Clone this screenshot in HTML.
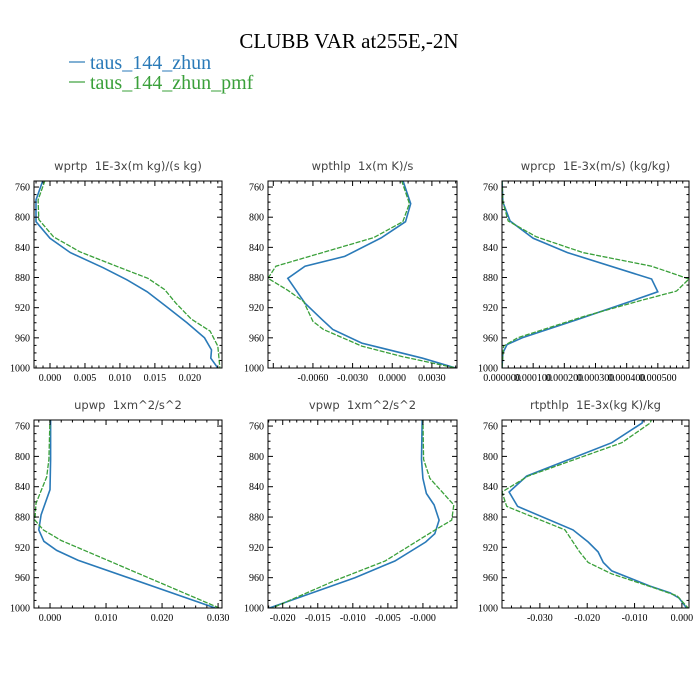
<!DOCTYPE html>
<html><head><meta charset="utf-8"><style>
body{margin:0;background:#fff;}
svg{display:block;}
.tk{font-family:"Liberation Serif",serif;font-size:10px;fill:#000;}
.pt{font-family:"DejaVu Sans","Liberation Sans",sans-serif;font-size:11.5px;fill:#444;}
</style></head><body>
<svg id="chart" width="700" height="700" viewBox="0 0 700 700" xmlns="http://www.w3.org/2000/svg">
<text x="349" y="48" text-anchor="middle" font-family="Liberation Serif,serif" font-size="21">CLUBB VAR at255E,-2N</text>
<g>
<line x1="69" y1="62" x2="85" y2="62" stroke="#2a7ab8" stroke-width="1.2"/>
<text x="90" y="69" font-family="Liberation Serif,serif" font-size="20" fill="#2a7ab8">taus_144_zhun</text>
<line x1="69" y1="82" x2="85" y2="82" stroke="#3aa03a" stroke-width="1.2"/>
<text x="90" y="89" font-family="Liberation Serif,serif" font-size="20" fill="#3aa03a">taus_144_zhun_pmf</text>
</g>
</svg>
<script>
// Panel titles
const titles = ["wprtp  1E-3x(m kg)/(s kg)","wpthlp  1x(m K)/s","wprcp  1E-3x(m/s) (kg/kg)","upwp  1xm^2/s^2","vpwp  1xm^2/s^2","rtpthlp  1E-3x(kg K)/kg"];
// x-axis ranges
const xMins = [-0.00229,-0.0094,0,-0.00286,-0.0221,-0.038];
const xMaxs = [0.0246,0.0049,0.0006,0.0307,0.00486,0.0015];
// tick values & labels
const xTicks = [[0,0.005,0.01,0.015,0.02],[-0.006,-0.003,0,0.003],[0,0.0001,0.0002,0.0003,0.0004,0.0005],[0,0.01,0.02,0.03],[-0.02,-0.015,-0.01,-0.005,0],[-0.03,-0.02,-0.01,0]];
const xTickLabels = [["0.000","0.005","0.010","0.015","0.020"],["-0.0060","-0.0030","0.0000","0.0030"],["0.000000","0.000100","0.000200","0.000300","0.000400","0.000500"],["0.000","0.010","0.020","0.030"],["-0.020","-0.015","-0.010","-0.005","-0.000"],["-0.030","-0.020","-0.010","0.000"]];
const yTicks = [760,800,840,880,920,960,1000];
// series: pressure levels and values
const bluePres = [
 [751,777,806,828,847,867,883,899,919,940,960,976,987,1000],
 [751,782,806,827,852,865,881,899,914,936,949,967,987,1000],
 [751,780,805,828,847,882,899,912,936,960,969,980,1000],
 [749,804,844,877,897,912,924,937,1000],
 [749,804,829,849,864,884,902,913,938,960,1000],
 [749,756,782,826,847,866,897,913,926,940,951,971,980,987,1000]];
const blueVals = [
 [-0.001,-0.002,-0.002,0,0.0029,0.0076,0.011,0.0139,0.0167,0.0196,0.0221,0.0231,0.023,0.024],
 [0.0008,0.0014,0.001,-0.0008,-0.0036,-0.0066,-0.0079,-0.0072,-0.0066,-0.0053,-0.0045,-0.0023,0.0023,0.0048],
 [0,0.000003,0.000026,0.0001,0.00021,0.00048,0.0005,0.00041,0.00024,0.000065,0.000016,0.000003,0],
 [0.0001,0.0001,0,-0.0016,-0.002,-0.0011,0.0012,0.005,0.0295],
 [-0.0001,-0.0002,0,0.0005,0.0016,0.0023,0.0017,0.0004,-0.004,-0.0097,-0.0219],
 [-0.0082,-0.0084,-0.0148,-0.0328,-0.0365,-0.0347,-0.023,-0.0198,-0.0177,-0.0166,-0.0148,-0.0068,-0.0025,-0.0006,0.001]];
const greenPres = [
 [751,777,803,826,846,865,881,896,914,935,951,971,1000],
 [751,782,806,827,865,881,897,912,938,949,971,985,1000],
 [751,780,805,826,847,865,882,898,910,932,960,971,1000],
 [749,804,827,862,884,897,911,933,1000],
 [749,804,829,864,884,899,938,964,1000],
 [749,756,782,826,847,866,897,926,940,955,973,984,1000]];
const greenVals = [
 [-0.0007,-0.0017,-0.0016,0.0005,0.0043,0.0095,0.014,0.0164,0.018,0.0202,0.0229,0.024,0.0243],
 [0.0007,0.0013,0.0008,-0.0014,-0.0088,-0.0094,-0.0079,-0.0067,-0.006,-0.0052,-0.0023,0.0008,0.0048],
 [0,0.000003,0.00002,0.00011,0.00026,0.00048,0.0006,0.00056,0.00045,0.00026,0.00005,0.000005,0],
 [0,-0.0002,-0.0006,-0.0025,-0.0027,-0.0012,0.002,0.009,0.0302],
 [0,0.0001,0.001,0.0044,0.0041,0.0014,-0.0054,-0.0126,-0.0215],
 [-0.0063,-0.0067,-0.0127,-0.0325,-0.038,-0.037,-0.0247,-0.0216,-0.0198,-0.0148,-0.0061,-0.001,0.0013]];

const NS='http://www.w3.org/2000/svg';
const svg=document.getElementById('chart');
const boxL=[34,268,502], boxR=[222,457,689], boxT=[181,420], boxB=[368,608];
const pTop=752, pBot=1000;
function mk(tag,attrs,parent){const e=document.createElementNS(NS,tag);for(const k in attrs)e.setAttribute(k,attrs[k]);(parent||svg).appendChild(e);return e;}
for(let i=0;i<6;i++){
  const col=i%3,row=Math.floor(i/3);
  const L=boxL[col],R=boxR[col],T=boxT[row],B=boxB[row];
  const xs=v=>L+(v-xMins[i])/(xMaxs[i]-xMins[i])*(R-L);
  const ys=p=>T+(p-pTop)/(pBot-pTop)*(B-T);
  const g=mk('g',{});
  
  
  const tt=mk('text',{x:(L+R)/2,y:T-11,'text-anchor':'middle','class':'pt'},g);
  tt.textContent=titles[i].replace(/ /g,'\u00a0');
  
  
  // series
  const mkLine=(pres,vals,color,dash,name)=>{
    const d=pres.map((p,k)=>(k?'L':'M')+xs(vals[k]).toFixed(1)+','+ys(p).toFixed(1)).join('');
    const pth=mk('path',{d:d,fill:'none',stroke:color,'stroke-width':dash?1.3:1.6,'stroke-dasharray':dash?'5,1.5':'none'},g);
    
    
  };
  const clip=mk('clipPath',{id:'c'+i},g);
  mk('rect',{x:L,y:T,width:R-L,height:B-T},clip);
  const sg=mk('g',{'clip-path':'url(#c'+i+')'},g);
  
  
  const gg=g; 
  (function(){const old=g;})();
  // draw lines inside clipped group
  const draw=(pres,vals,color,dash,name)=>{
    const d=pres.map((p,k)=>(k?'L':'M')+xs(vals[k]).toFixed(1)+','+ys(p).toFixed(1)).join('');
    const pth=mk('path',{d:d,fill:'none',stroke:color,'stroke-width':dash?1.3:1.6,'stroke-dasharray':dash?'5,1.5':'none'},sg);
    
    
  };
  draw(bluePres[i],blueVals[i],'#2a7ab8',false,'series-zhun');
  draw(greenPres[i],greenVals[i],'#3aa03a',true,'series-zhun-pmf');
  // frame
  const fr=mk('rect',{x:L,y:T,width:R-L,height:B-T,fill:'none',stroke:'#000','stroke-width':1},g);
  
  
  // y ticks
  for(let p=760;p<=1000;p+=10){
    const y=ys(p),major=(p%40===0),len=major?5:2.5;
    mk('line',{x1:L,y1:y,x2:L+len,y2:y,stroke:'#000','stroke-width':1},g);
    mk('line',{x1:R,y1:y,x2:R-len,y2:y,stroke:'#000','stroke-width':1},g);
  }
  yTicks.forEach(p=>{
    const t=mk('text',{x:L-4,y:ys(p)+3.5,'text-anchor':'end','class':'tk'},g);
    t.textContent=p;
    
    
  });
  // x ticks
  const xt=xTicks[i],step=xt[1]-xt[0],minor=step/5;
  const start=Math.ceil(xMins[i]/minor)*minor;
  for(let v=start;v<=xMaxs[i]+1e-12;v+=minor){
    const k=Math.round((v-xt[0])/minor),major=(k%5===0),len=major?5:2.5,x=xs(v);
    mk('line',{x1:x,y1:B,x2:x,y2:B-len,stroke:'#000','stroke-width':1},g);
    mk('line',{x1:x,y1:T,x2:x,y2:T+len,stroke:'#000','stroke-width':1},g);
  }
  xt.forEach((v,k)=>{
    const t=mk('text',{x:xs(v),y:B+13,'text-anchor':'middle','class':'tk'},g);
    if(i===2)t.setAttribute('font-size','9');
    t.textContent=xTickLabels[i][k];
    
    
  });
}
</script>
</body></html>
